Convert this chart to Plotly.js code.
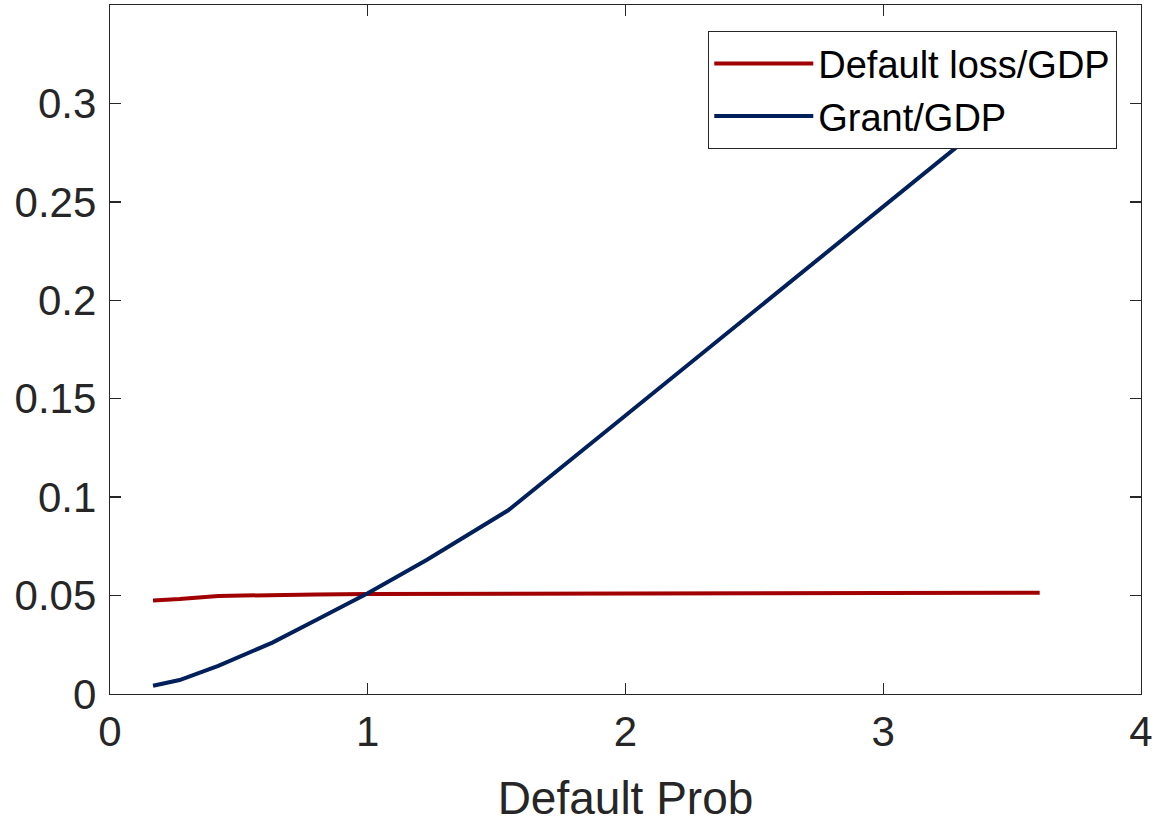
<!DOCTYPE html>
<html>
<head>
<meta charset="utf-8">
<script src="https://cdn.plot.ly/plotly-3.0.1.min.js"></script>
<style>html,body{margin:0;padding:0;background:#fff;}#chart{width:1158px;height:824px;}</style>
</head>
<body>
<div id="chart"></div>
<script>
// Data
const defaultProb = [0.167, 0.27, 0.42, 0.63, 0.8, 1.0, 1.23, 1.545, 2.0, 2.5, 3.0, 3.607];
const defaultLossGDP = [0.0475, 0.0482, 0.0498, 0.0504, 0.0506, 0.0508, 0.0509, 0.0510, 0.0511, 0.0512, 0.0513, 0.0514];
const grantGDP = [0.0042, 0.0071, 0.0143, 0.0261, 0.0376, 0.0512, 0.0682, 0.0933, 0.1415, 0.1945, 0.2475, 0.312];
const seriesNames = ['Default loss/GDP', 'Grant/GDP'];
const xTicks = [0, 1, 2, 3, 4];
const yTicks = [0, 0.05, 0.1, 0.15, 0.2, 0.25, 0.3];
const yTickText = ['0', '0.05', '0.1', '0.15', '0.2', '0.25', '0.3'];

const axisColor = '#262626';
const font = 'Liberation Sans, Arial, Helvetica, sans-serif';

const traces = [
  {x: defaultProb, y: defaultLossGDP, name: seriesNames[0], mode: 'lines',
   line: {color: '#A00000', width: 4}},
  {x: defaultProb, y: grantGDP, name: seriesNames[1], mode: 'lines',
   line: {color: '#00205B', width: 4}}
];

const layout = {
  width: 1158, height: 824,
  margin: {l: 110, r: 17, t: 5, b: 130},
  paper_bgcolor: '#fff', plot_bgcolor: '#fff',
  font: {family: font, color: axisColor},
  showlegend: true,
  xaxis: {
    range: [0, 4], tickvals: xTicks, ticktext: xTicks.map(String),
    showgrid: false, zeroline: false, showline: true, linecolor: axisColor, linewidth: 1.3,
    mirror: 'ticks', ticks: 'inside', ticklen: 11, tickwidth: 1.3, tickcolor: axisColor,
    tickfont: {size: 42, family: font, color: axisColor},
    title: {text: 'Default Prob', font: {size: 46, family: font, color: axisColor}, standoff: 28}
  },
  yaxis: {
    range: [0, 0.35], tickvals: yTicks, ticktext: yTickText,
    showgrid: false, zeroline: false, showline: true, linecolor: axisColor, linewidth: 1.3,
    mirror: 'ticks', ticks: 'inside', ticklen: 11, tickwidth: 1.3, tickcolor: axisColor,
    tickfont: {size: 42, family: font, color: axisColor},
    ticklabelstandoff: 4
  },
  legend: {
    x: 0.9767, xanchor: 'right', y: 0.9623, yanchor: 'top',
    bgcolor: '#fff', bordercolor: axisColor, borderwidth: 1.3,
    font: {size: 38, family: font, color: '#000'},
    itemwidth: 99, tracegroupgap: 0
  }
};

Plotly.newPlot('chart', traces, layout, {displayModeBar: false, staticPlot: true});
</script>
</body>
</html>
